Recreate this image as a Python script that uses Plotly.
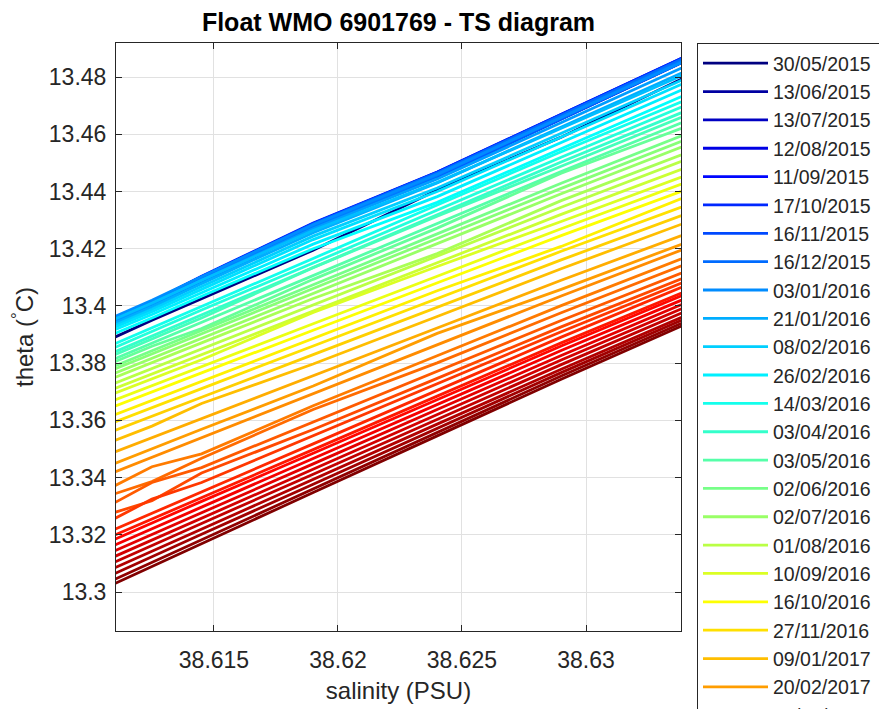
import numpy as np
import plotly.graph_objects as go

# ---------------- data ----------------
salinity_nodes = [38.6108, 38.6125, 38.6145, 38.6190, 38.6240, 38.6290, 38.6342]

profile_dates = [
    "30/05/2015", "06/06/2015", "13/06/2015", "28/06/2015", "13/07/2015", "28/07/2015",
    "12/08/2015", "27/08/2015", "11/09/2015", "29/09/2015", "17/10/2015", "01/11/2015",
    "16/11/2015", "01/12/2015", "16/12/2015", "25/12/2015", "03/01/2016", "12/01/2016",
    "21/01/2016", "30/01/2016", "08/02/2016", "17/02/2016", "26/02/2016", "05/03/2016",
    "14/03/2016", "24/03/2016", "03/04/2016", "18/04/2016", "03/05/2016", "18/05/2016",
    "02/06/2016", "17/06/2016", "02/07/2016", "17/07/2016", "01/08/2016", "21/08/2016",
    "10/09/2016", "28/09/2016", "16/10/2016", "06/11/2016", "27/11/2016", "19/12/2016",
    "09/01/2017", "30/01/2017", "20/02/2017", "13/03/2017", "03/04/2017", "24/04/2017",
    "15/05/2017", "05/06/2017", "26/06/2017", "17/07/2017", "07/08/2017", "28/08/2017",
    "18/09/2017", "09/10/2017", "30/10/2017", "20/11/2017", "11/12/2017", "01/01/2018",
    "22/01/2018", "12/02/2018",
]

theta = [
    [13.3883, 13.3950, 13.4025, 13.4195, 13.4405, 13.4590, 13.4808],
    [13.3930, 13.4000, 13.4088, 13.4274, 13.4454, 13.4658, 13.4868],
    [13.3940, 13.4009, 13.4096, 13.4282, 13.4461, 13.4664, 13.4874],
    [13.3925, 13.3995, 13.4083, 13.4270, 13.4450, 13.4654, 13.4864],
    [13.3942, 13.4012, 13.4099, 13.4285, 13.4464, 13.4667, 13.4877],
    [13.3932, 13.4002, 13.4090, 13.4276, 13.4456, 13.4660, 13.4870],
    [13.3945, 13.4014, 13.4101, 13.4287, 13.4466, 13.4668, 13.4878],
    [13.3928, 13.3998, 13.4085, 13.4272, 13.4452, 13.4656, 13.4866],
    [13.3944, 13.4014, 13.4102, 13.4288, 13.4467, 13.4670, 13.4880],
    [13.3935, 13.4005, 13.4093, 13.4279, 13.4458, 13.4662, 13.4871],
    [13.3946, 13.4016, 13.4104, 13.4290, 13.4468, 13.4671, 13.4880],
    [13.3930, 13.4000, 13.4088, 13.4275, 13.4455, 13.4658, 13.4867],
    [13.3940, 13.4010, 13.4098, 13.4284, 13.4463, 13.4665, 13.4874],
    [13.3926, 13.3996, 13.4084, 13.4271, 13.4451, 13.4655, 13.4864],
    [13.3944, 13.4013, 13.4100, 13.4286, 13.4465, 13.4667, 13.4876],
    [13.3936, 13.4005, 13.4092, 13.4278, 13.4457, 13.4660, 13.4869],
    [13.3955, 13.4020, 13.4102, 13.4284, 13.4460, 13.4660, 13.4865],
    [13.3943, 13.4008, 13.4090, 13.4270, 13.4444, 13.4642, 13.4845],
    [13.3933, 13.3997, 13.4078, 13.4256, 13.4430, 13.4626, 13.4828],
    [13.3947, 13.4010, 13.4090, 13.4264, 13.4432, 13.4622, 13.4818],
    [13.3925, 13.3988, 13.4068, 13.4244, 13.4412, 13.4604, 13.4802],
    [13.3918, 13.3980, 13.4058, 13.4232, 13.4400, 13.4590, 13.4788],
    [13.3910, 13.3970, 13.4046, 13.4216, 13.4382, 13.4572, 13.4768],
    [13.3896, 13.3958, 13.4034, 13.4200, 13.4362, 13.4550, 13.4745],
    [13.3860, 13.3924, 13.3999, 13.4166, 13.4353, 13.4539, 13.4726],
    [13.3847, 13.3911, 13.3986, 13.4150, 13.4335, 13.4520, 13.4708],
    [13.3832, 13.3895, 13.3969, 13.4135, 13.4319, 13.4503, 13.4688],
    [13.3822, 13.3885, 13.3958, 13.4134, 13.4314, 13.4488, 13.4672],
    [13.3808, 13.3870, 13.3943, 13.4106, 13.4288, 13.4470, 13.4652],
    [13.3798, 13.3859, 13.3921, 13.4093, 13.4272, 13.4464, 13.4632],
    [13.3783, 13.3843, 13.3915, 13.4074, 13.4252, 13.4429, 13.4607],
    [13.3773, 13.3833, 13.3903, 13.4061, 13.4236, 13.4411, 13.4587],
    [13.3758, 13.3817, 13.3887, 13.4044, 13.4218, 13.4392, 13.4567],
    [13.3743, 13.3801, 13.3871, 13.4026, 13.4183, 13.4368, 13.4540],
    [13.3723, 13.3781, 13.3850, 13.4004, 13.4175, 13.4345, 13.4517],
    [13.3705, 13.3763, 13.3831, 13.3982, 13.4151, 13.4320, 13.4489],
    [13.3688, 13.3745, 13.3812, 13.3977, 13.4138, 13.4295, 13.4462],
    [13.3665, 13.3722, 13.3789, 13.3938, 13.4104, 13.4270, 13.4437],
    [13.3643, 13.3700, 13.3766, 13.3915, 13.4080, 13.4246, 13.4412],
    [13.3613, 13.3670, 13.3737, 13.3887, 13.4053, 13.4208, 13.4387],
    [13.3588, 13.3645, 13.3711, 13.3860, 13.4025, 13.4191, 13.4357],
    [13.3558, 13.3615, 13.3681, 13.3830, 13.3995, 13.4161, 13.4327],
    [13.3523, 13.3580, 13.3659, 13.3797, 13.3963, 13.4130, 13.4297],
    [13.3483, 13.3540, 13.3607, 13.3757, 13.3923, 13.4090, 13.4257],
    [13.3443, 13.3501, 13.3569, 13.3720, 13.3904, 13.4058, 13.4227],
    [13.3413, 13.3471, 13.3540, 13.3694, 13.3865, 13.4035, 13.4207],
    [13.3363, 13.3438, 13.3483, 13.3651, 13.3826, 13.4001, 13.4177],
    [13.3338, 13.3386, 13.3468, 13.3638, 13.3801, 13.3976, 13.4152],
    [13.3303, 13.3383, 13.3435, 13.3594, 13.3772, 13.3949, 13.4127],
    [13.3273, 13.3319, 13.3416, 13.3568, 13.3747, 13.3927, 13.4107],
    [13.3248, 13.3325, 13.3383, 13.3546, 13.3728, 13.3910, 13.4092],
    [13.3212, 13.3276, 13.3351, 13.3518, 13.3705, 13.3891, 13.4078],
    [13.3192, 13.3256, 13.3331, 13.3498, 13.3685, 13.3871, 13.4058],
    [13.3177, 13.3242, 13.3317, 13.3485, 13.3673, 13.3860, 13.4048],
    [13.3157, 13.3222, 13.3297, 13.3467, 13.3655, 13.3844, 13.4033],
    [13.3137, 13.3202, 13.3278, 13.3448, 13.3638, 13.3827, 13.4018],
    [13.3117, 13.3182, 13.3259, 13.3430, 13.3621, 13.3811, 13.4003],
    [13.3097, 13.3163, 13.3240, 13.3412, 13.3604, 13.3795, 13.3988],
    [13.3077, 13.3143, 13.3221, 13.3394, 13.3587, 13.3779, 13.3973],
    [13.3057, 13.3124, 13.3202, 13.3377, 13.3572, 13.3767, 13.3963],
    [13.3037, 13.3104, 13.3184, 13.3361, 13.3558, 13.3755, 13.3953],
    [13.3022, 13.3090, 13.3170, 13.3348, 13.3546, 13.3744, 13.3943],
]

x_tick_values = [38.615, 38.62, 38.625, 38.63]
x_tick_labels = ["38.615", "38.62", "38.625", "38.63"]
y_tick_values = [13.30, 13.32, 13.34, 13.36, 13.38, 13.40, 13.42, 13.44, 13.46, 13.48]
y_tick_labels = ["13.3", "13.32", "13.34", "13.36", "13.38", "13.4", "13.42", "13.44", "13.46", "13.48"]

x_range = [38.61105, 38.63383]
y_range = [13.2864, 13.4919]


def jet(f):
    r = np.clip(min(4 * f - 1.5, -4 * f + 4.5), 0, 1)
    g = np.clip(min(4 * f - 0.5, -4 * f + 3.5), 0, 1)
    b = np.clip(min(4 * f + 0.5, -4 * f + 2.5), 0, 1)
    return "rgb(%d,%d,%d)" % (round(r * 255), round(g * 255), round(b * 255))


fig = go.Figure()
n = len(theta)
for i, (date, th) in enumerate(zip(profile_dates, theta)):
    fig.add_trace(go.Scatter(
        x=salinity_nodes, y=th, mode="lines", name=date + "\u00a0\u00a0\u00a0",
        line=dict(color=jet(i / (n - 1)), width=2.8),
        showlegend=(i % 2 == 0), hoverinfo="skip",
    ))

axis_color = "#262626"
font_main = "Liberation Sans, Arial, Helvetica, sans-serif"

fig.update_layout(
    width=887, height=709,
    margin=dict(l=108, r=214, t=35, b=86, autoexpand=False),
    paper_bgcolor="white", plot_bgcolor="white",
    font=dict(family=font_main, color=axis_color),
    title=dict(text="<b>Float WMO 6901769 - TS diagram</b>",
               font=dict(family=font_main, size=25, color="black"),
               x=0.5, xref="paper", xanchor="center",
               y=1 - 14 / 709, yref="container", yanchor="middle"),
    xaxis=dict(range=x_range, tickvals=x_tick_values, ticktext=x_tick_labels,
               ticks="inside", ticklen=6, tickcolor=axis_color,
               showline=True, linecolor=axis_color, linewidth=1, mirror="ticks",
               showgrid=True, gridcolor="#e1e1e1", gridwidth=1, zeroline=False,
               tickfont=dict(family=font_main, size=23, color=axis_color),
               ticklabelstandoff=8,
               title=dict(text="salinity (PSU)", standoff=10,
                          font=dict(family=font_main, size=24, color=axis_color))),
    yaxis=dict(range=y_range, tickvals=y_tick_values, ticktext=y_tick_labels,
               ticks="inside", ticklen=6, tickcolor=axis_color,
               showline=True, linecolor=axis_color, linewidth=1, mirror="ticks",
               showgrid=True, gridcolor="#e1e1e1", gridwidth=1, zeroline=False,
               tickfont=dict(family=font_main, size=23, color=axis_color),
               ticklabelstandoff=4,
               title=dict(text="theta (<sup>°</sup>C)", standoff=8,
                          font=dict(family=font_main, size=24, color=axis_color))),
    legend=dict(x=(689 - 108) / 565, xanchor="left", y=1, yanchor="top",
                bgcolor="white", bordercolor=axis_color, borderwidth=1,
                font=dict(family=font_main, size=19.5, color=axis_color),
                itemwidth=65, maxheight=1200, tracegroupgap=0),
)

fig.write_html("out.html")
